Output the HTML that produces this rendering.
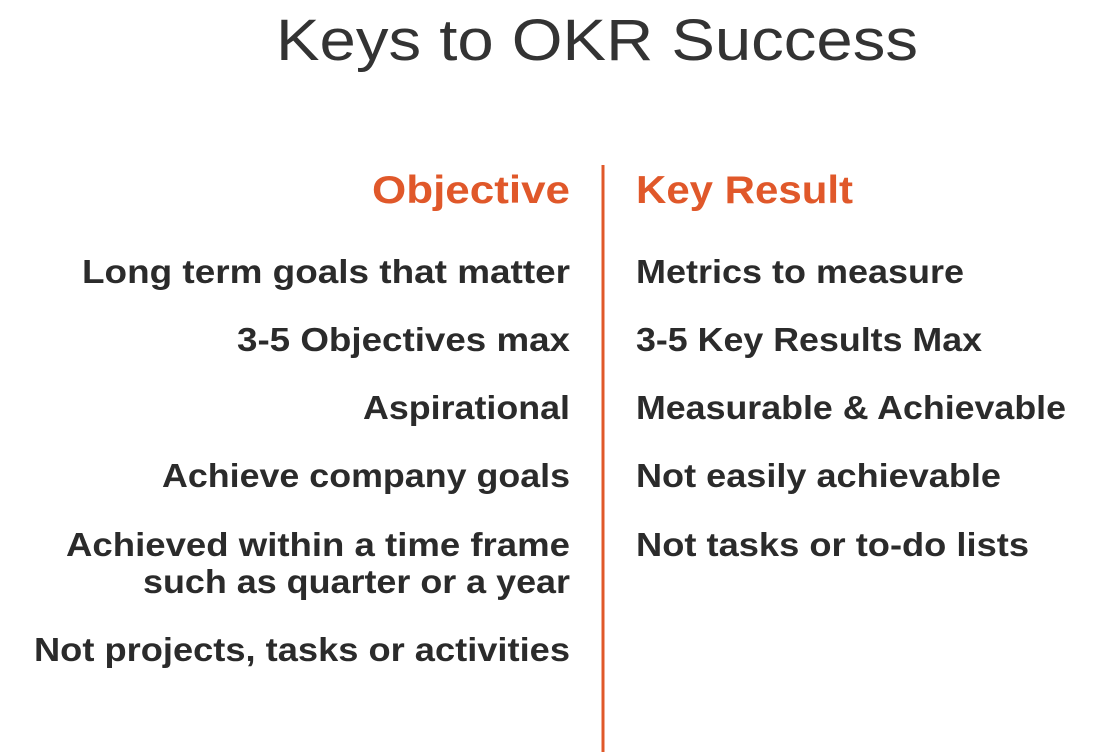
<!DOCTYPE html>
<html>
<head>
<meta charset="utf-8">
<style>
  html,body{margin:0;padding:0;background:#fff;}
  svg{display:block;}
  text{font-family:"Liberation Sans",sans-serif;}
  .body{font-size:33px;font-weight:bold;fill:#2b2b2b;}
  .head{font-size:39px;font-weight:bold;fill:#E0582A;}
</style>
</head>
<body>
<svg width="1120" height="752" viewBox="0 0 1120 752">
  <rect width="1120" height="752" fill="#fff"/>
  <text x="276" y="60" font-size="58" fill="#333" textLength="642" lengthAdjust="spacingAndGlyphs">Keys to OKR Success</text>

  <rect x="601.5" y="165" width="3" height="587" fill="#E0582A"/>

  <text class="head" x="372" y="203" textLength="198" lengthAdjust="spacingAndGlyphs">Objective</text>
  <text class="head" x="636" y="203" textLength="217" lengthAdjust="spacingAndGlyphs">Key Result</text>

  <g>
    <text class="body" x="82" y="283" textLength="488" lengthAdjust="spacingAndGlyphs">Long term goals that matter</text>
    <text class="body" x="237" y="351" textLength="333" lengthAdjust="spacingAndGlyphs">3-5 Objectives max</text>
    <text class="body" x="363" y="419" textLength="207" lengthAdjust="spacingAndGlyphs">Aspirational</text>
    <text class="body" x="162" y="487" textLength="408" lengthAdjust="spacingAndGlyphs">Achieve company goals</text>
    <text class="body" x="66" y="556" textLength="504" lengthAdjust="spacingAndGlyphs">Achieved within a time frame</text>
    <text class="body" x="143" y="593" textLength="427" lengthAdjust="spacingAndGlyphs">such as quarter or a year</text>
    <text class="body" x="34" y="661" textLength="536" lengthAdjust="spacingAndGlyphs">Not projects, tasks or activities</text>
  </g>

  <g>
    <text class="body" x="636" y="283" textLength="328" lengthAdjust="spacingAndGlyphs">Metrics to measure</text>
    <text class="body" x="636" y="351" textLength="346" lengthAdjust="spacingAndGlyphs">3-5 Key Results Max</text>
    <text class="body" x="636" y="419" textLength="430" lengthAdjust="spacingAndGlyphs">Measurable &amp; Achievable</text>
    <text class="body" x="636" y="487" textLength="365" lengthAdjust="spacingAndGlyphs">Not easily achievable</text>
    <text class="body" x="636" y="556" textLength="393" lengthAdjust="spacingAndGlyphs">Not tasks or to-do lists</text>
  </g>
</svg>
</body>
</html>
